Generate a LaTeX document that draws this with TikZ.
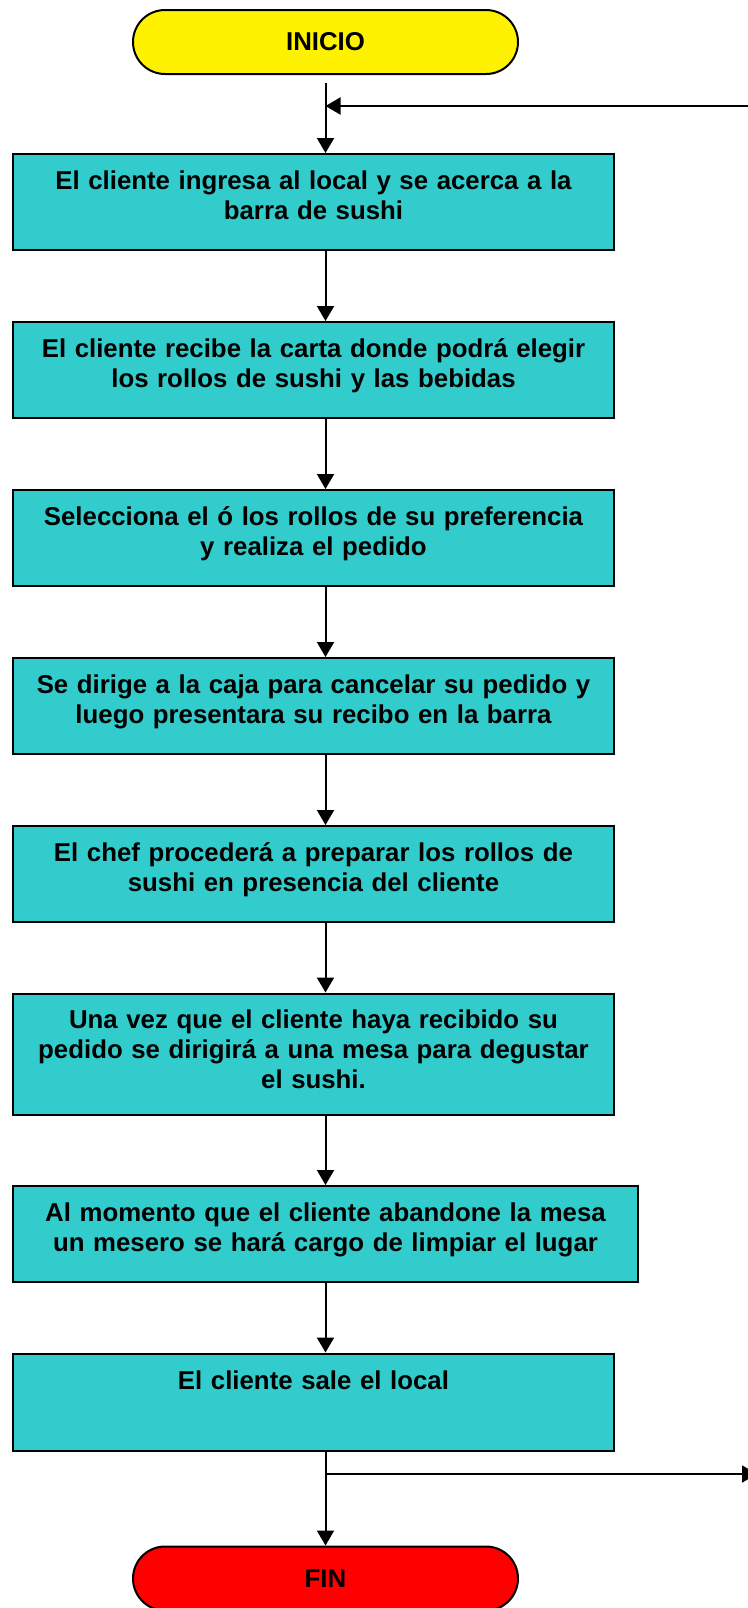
\documentclass[tikz,border=0pt]{standalone}
\usepackage{fontspec}
\setmainfont{Liberation Sans}
\usepackage{tikz}
\usetikzlibrary{arrows.meta}
\definecolor{turquesa}{RGB}{51,204,204}
\tikzstyle{startstop}=[rectangle,rounded corners=16pt,minimum width=192.5pt,
minimum height=32pt,text centered,draw=black,line width=1pt]
\tikzstyle{process}=[rectangle,minimum width=300.5pt,minimum height=48pt,
text width=290pt,inner xsep=5pt,align=center,text depth=21.7pt,draw=black,fill=turquesa,line width=1pt]
\tikzstyle{arrow}=[line width=1pt,-{Triangle[length=7.5pt,width=8.5pt]}]

\begin{document}
\begin{tikzpicture}[x=0.5pt,y=-0.5pt,node distance=84pt,
    font=\fontsize{12.9}{15}\selectfont\bfseries]
        \useasboundingbox (0,0) rectangle (748,1608);
        \node (ini) [startstop,fill=yellow] at (325.5,42) {INICIO};
        \node (b1) [process,below of=ini,xshift=-6pt,yshift=4pt] {El cliente ingresa al local y se acerca a la\\ barra de sushi};
        \node (b2) [process,below of=b1] {El cliente recibe la carta donde podrá elegir\\ los rollos de sushi y las bebidas};
        \node (b3) [process,below of=b2] {Selecciona el ó los rollos de su preferencia\\ y realiza el pedido};
        \node (b4) [process,below of=b3] {Se dirige a la caja para cancelar su pedido y\\ luego presentara su recibo en la barra};
        \node (b5) [process,below of=b4] {El chef procederá a preparar los rollos de\\ sushi en presencia del cliente};
        \node (b6) [process,below of=b5,yshift=-6pt,minimum height=60.5pt,text depth=34.7pt] {Una vez que el cliente haya recibido su\\ pedido se dirigirá a una mesa para degustar\\ el sushi.};
        \node (b7) [process,below of=b6,xshift=6pt,yshift=-6pt,minimum width=312.5pt,text width=302pt] {Al momento que el cliente abandone la mesa\\ un mesero se hará cargo de limpiar el lugar};
        \node (b8) [process,below of=b7,xshift=-6pt,minimum height=48.5pt,text depth=22pt] {El cliente sale el local};
        \node (fin) [startstop,fill=red,below of=b8,xshift=6pt,yshift=-4.25pt] {FIN};
        \coordinate (regreso) at (760,106);
        \coordinate (salida) at (757,1474);

        \draw [arrow,shorten <=4pt] (ini) -- (b1.north -| ini);
        \draw [arrow] (regreso) -- (regreso -| ini);
        \draw [arrow] (b1.south -| ini) -- (b2.north -| ini);
        \draw [arrow] (b2.south -| ini) -- (b3.north -| ini);
        \draw [arrow] (b3.south -| ini) -- (b4.north -| ini);
        \draw [arrow] (b4.south -| ini) -- (b5.north -| ini);
        \draw [arrow] (b5.south -| ini) -- (b6.north -| ini);
        \draw [arrow] (b6.south -| ini) -- (b7.north -| ini);
        \draw [arrow] (b7.south -| ini) -- (b8.north -| ini);
        \draw [arrow] (b8.south -| ini) -- (fin);
        \draw [arrow] (salida -| ini) -- (salida);
    \end{tikzpicture}
\end{document}
